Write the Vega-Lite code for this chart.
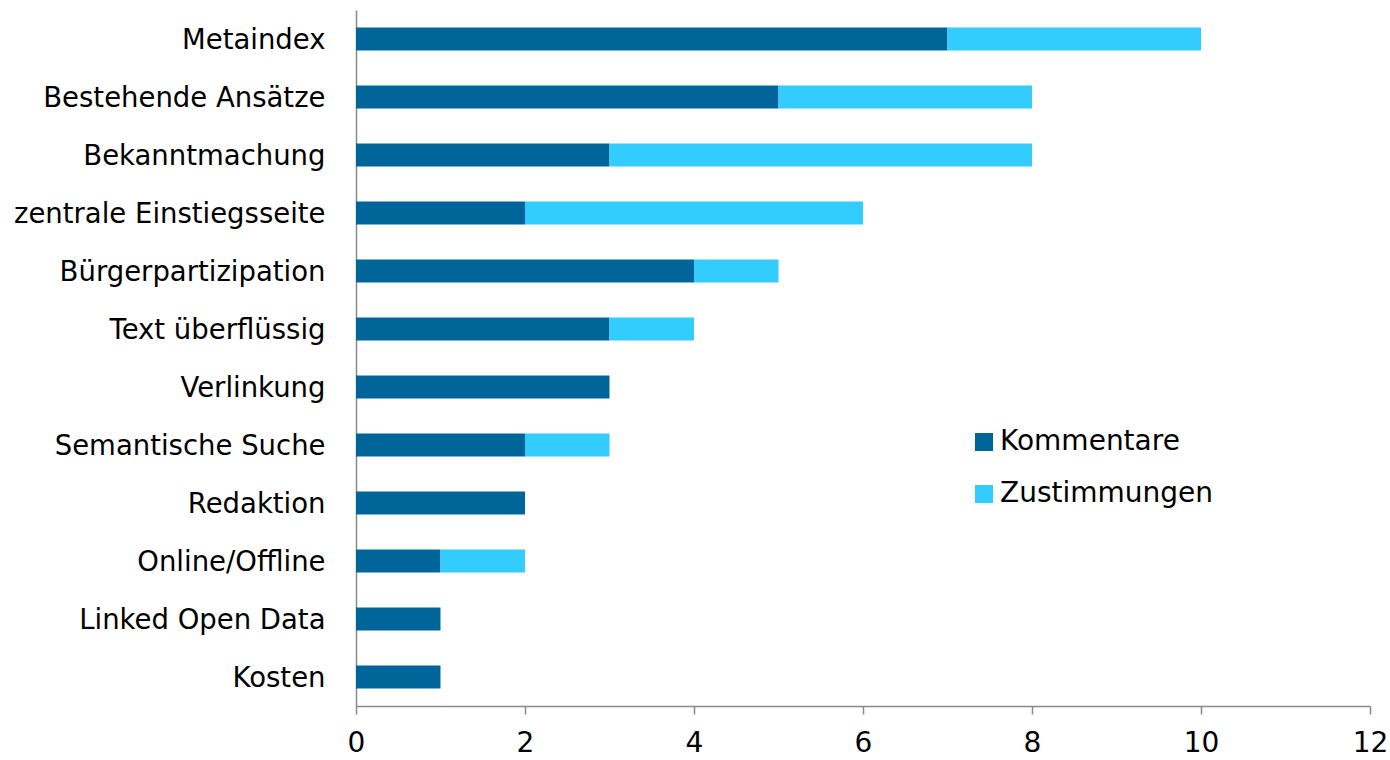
{
  "$schema": "https://vega.github.io/schema/vega-lite/v6.json",
  "width": 1014,
  "height": 696,
  "autosize": {"type": "none"},
  "padding": {"left": 356, "top": 10, "right": 20, "bottom": 54},
  "background": "white",
  "config": {
    "view": {"stroke": null},
    "font": "DejaVu Sans"
  },
  "data": {
    "values": [
      {"kategorie": "Metaindex", "art": "Kommentare", "o": 1, "anzahl": 7},
      {"kategorie": "Metaindex", "art": "Zustimmungen", "o": 2, "anzahl": 3},
      {"kategorie": "Bestehende Ansätze", "art": "Kommentare", "o": 1, "anzahl": 5},
      {"kategorie": "Bestehende Ansätze", "art": "Zustimmungen", "o": 2, "anzahl": 3},
      {"kategorie": "Bekanntmachung", "art": "Kommentare", "o": 1, "anzahl": 3},
      {"kategorie": "Bekanntmachung", "art": "Zustimmungen", "o": 2, "anzahl": 5},
      {"kategorie": "zentrale Einstiegsseite", "art": "Kommentare", "o": 1, "anzahl": 2},
      {"kategorie": "zentrale Einstiegsseite", "art": "Zustimmungen", "o": 2, "anzahl": 4},
      {"kategorie": "Bürgerpartizipation", "art": "Kommentare", "o": 1, "anzahl": 4},
      {"kategorie": "Bürgerpartizipation", "art": "Zustimmungen", "o": 2, "anzahl": 1},
      {"kategorie": "Text überflüssig", "art": "Kommentare", "o": 1, "anzahl": 3},
      {"kategorie": "Text überflüssig", "art": "Zustimmungen", "o": 2, "anzahl": 1},
      {"kategorie": "Verlinkung", "art": "Kommentare", "o": 1, "anzahl": 3},
      {"kategorie": "Verlinkung", "art": "Zustimmungen", "o": 2, "anzahl": 0},
      {"kategorie": "Semantische Suche", "art": "Kommentare", "o": 1, "anzahl": 2},
      {"kategorie": "Semantische Suche", "art": "Zustimmungen", "o": 2, "anzahl": 1},
      {"kategorie": "Redaktion", "art": "Kommentare", "o": 1, "anzahl": 2},
      {"kategorie": "Redaktion", "art": "Zustimmungen", "o": 2, "anzahl": 0},
      {"kategorie": "Online/Offline", "art": "Kommentare", "o": 1, "anzahl": 1},
      {"kategorie": "Online/Offline", "art": "Zustimmungen", "o": 2, "anzahl": 1},
      {"kategorie": "Linked Open Data", "art": "Kommentare", "o": 1, "anzahl": 1},
      {"kategorie": "Linked Open Data", "art": "Zustimmungen", "o": 2, "anzahl": 0},
      {"kategorie": "Kosten", "art": "Kommentare", "o": 1, "anzahl": 1},
      {"kategorie": "Kosten", "art": "Zustimmungen", "o": 2, "anzahl": 0}
    ]
  },
  "mark": {"type": "bar"},
  "encoding": {
    "y": {
      "field": "kategorie",
      "type": "nominal",
      "sort": ["Metaindex", "Bestehende Ansätze", "Bekanntmachung", "zentrale Einstiegsseite", "Bürgerpartizipation", "Text überflüssig", "Verlinkung", "Semantische Suche", "Redaktion", "Online/Offline", "Linked Open Data", "Kosten"],
      "scale": {"paddingInner": 0.6, "paddingOuter": 0.3},
      "axis": {
        "title": null,
        "ticks": false,
        "domainColor": "#898989",
        "domainWidth": 1.5,
        "labelFontSize": 27.5,
        "labelColor": "#000000",
        "labelPadding": 31,
        "labelOffset": 2,
        "labelLimit": 400
      }
    },
    "x": {
      "field": "anzahl",
      "type": "quantitative",
      "stack": "zero",
      "scale": {"domain": [0, 12], "nice": false},
      "axis": {
        "title": null,
        "values": [0, 2, 4, 6, 8, 10, 12],
        "grid": false,
        "domainColor": "#898989",
        "domainWidth": 1.5,
        "tickColor": "#898989",
        "tickWidth": 1.5,
        "tickSize": 8,
        "labelFontSize": 28,
        "labelColor": "#000000",
        "labelPadding": 15,
        "labelFlush": false,
        "labelOverlap": false
      }
    },
    "color": {
      "field": "art",
      "type": "nominal",
      "scale": {"domain": ["Kommentare", "Zustimmungen"], "range": ["#006699", "#33CCFF"]},
      "legend": {
        "title": null,
        "orient": "none",
        "legendX": 614,
        "legendY": 418,
        "padding": 0,
        "offset": 0,
        "symbolType": "square",
        "symbolSize": 324,
        "symbolStrokeWidth": 0,
        "labelFontSize": 28,
        "labelColor": "#000000",
        "labelOffset": 2,
        "labelLimit": 400,
        "rowPadding": 24
      }
    },
    "order": {"field": "o", "type": "quantitative"}
  }
}
